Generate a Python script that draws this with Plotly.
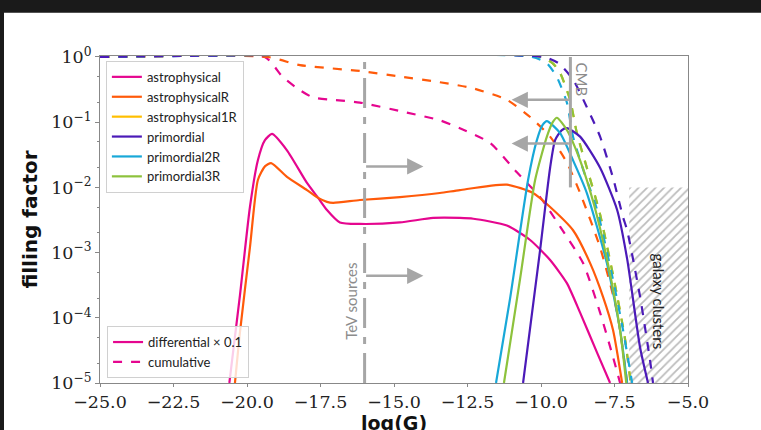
import plotly.graph_objects as go
import numpy as np

# ---------------- data ----------------
# differential (x 0.1) curves, solid
astro_G = [-20.6, -20.24, -19.9, -19.63, -19.39, -19.15, -18.64, -17.96, -17.58, -17.28, -16.84, -16.16,
           -14.8, -13.67, -12.76, -12.3, -11.16, -10.37, -9.69, -9.12, -8.67, -8.09, -7.65]
astro_ff = [1e-5, 2.2e-4, 5e-3, 0.026, 0.053, 0.066, 0.037, 0.0117, 6.9e-3, 4.5e-3, 2.9e-3, 2.75e-3,
            2.9e-3, 3.4e-3, 3.4e-3, 3.3e-3, 2.6e-3, 1.56e-3, 7.7e-4, 3.4e-4, 1.2e-4, 2.9e-5, 1e-5]

astroR_G = [-20.41, -20.24, -19.9, -19.63, -19.39, -19.18, -18.64, -17.96, -17.58, -17.28, -17.07, -16.16,
            -14.8, -13.44, -12.76, -11.16, -10.27, -9.69, -8.91, -8.33, -7.89, -7.55, -7.24]
astroR_ff = [1e-5, 6e-5, 1.2e-3, 0.013, 0.021, 0.0236, 0.0145, 9.1e-3, 6.9e-3, 6.0e-3, 5.8e-3, 6.4e-3,
             7.1e-3, 8.2e-3, 9.1e-3, 0.011, 8.2e-3, 5e-3, 2.2e-3, 6.9e-4, 2.1e-4, 6.5e-5, 1e-5]

prim_G = [-10.61, -10.03, -9.69, -9.52, -9.3, -9.12, -8.67, -7.99, -7.41, -7.07, -6.63, -6.36]
prim_ff = [1e-5, 1.1e-3, 0.02, 0.053, 0.075, 0.081, 0.06, 0.02, 4.5e-3, 8e-4, 3.5e-5, 1e-5]

prim2R_G = [-11.53, -11.05, -10.44, -10.14, -9.95, -9.8, -9.35, -8.91, -8.44, -7.76, -7.31, -7.07]
prim2R_ff = [1e-5, 2e-4, 0.013, 0.053, 0.09, 0.104, 0.068, 0.026, 8.2e-3, 6.9e-4, 6.5e-5, 1e-5]

prim3R_G = [-11.26, -10.71, -10.2, -9.8, -9.6, -9.46, -9.12, -8.67, -8.2, -7.7, -7.3, -7.1]
prim3R_ff = [1e-5, 4e-4, 0.013, 0.06, 0.1, 0.117, 0.076, 0.026, 5.5e-3, 6e-4, 6e-5, 1e-5]

# cumulative curves, dashed
astro_cum_G = [-25.0, -19.4, -18.78, -18.2, -17.76, -17.07, -16.16, -14.56, -13.44, -12.76, -11.73, -10.82,
               -10.03, -9.35, -8.57, -7.99, -7.55, -7.31]
astro_cum_ff = [1.0, 1.0, 0.49, 0.31, 0.24, 0.22, 0.2, 0.14, 0.107, 0.081, 0.048, 0.017,
                7.1e-3, 2.5e-3, 6.9e-4, 1.2e-4, 2.5e-5, 1e-5]

astroR_cum_G = [-25.0, -19.3, -18.2, -16.16, -14.8, -13.44, -12.31, -11.16, -10.37, -9.69, -9.12, -8.67,
                -7.99, -7.41, -7.07]
astroR_cum_ff = [1.0, 1.0, 0.75, 0.61, 0.5, 0.41, 0.33, 0.22, 0.12, 0.06, 0.024, 8.2e-3,
                 1.2e-3, 1.2e-4, 1e-5]

prim_cum_G = [-25.0, -9.9, -9.4, -8.91, -8.44, -7.99, -7.55, -7.21, -7.07, -6.63, -6.29, -6.19]
prim_cum_ff = [1.0, 1.0, 0.8, 0.45, 0.17, 0.06, 0.014, 3.5e-3, 2.2e-3, 2.1e-4, 2.2e-5, 1e-5]

prim2R_cum_G = [-25.0, -10.3, -9.8, -9.46, -9.12, -8.91, -8.57, -8.09, -7.55, -7.21, -6.9]
prim2R_cum_ff = [1.0, 1.0, 0.8, 0.49, 0.2, 0.06, 0.019, 4.5e-3, 3.8e-4, 6.5e-5, 1e-5]

prim3R_cum_G = [-25.0, -10.0, -9.6, -9.35, -9.01, -8.78, -8.44, -8.0, -7.5, -7.15, -6.95]
prim3R_cum_ff = [1.0, 1.0, 0.8, 0.57, 0.22, 0.068, 0.02, 4e-3, 3.5e-4, 5e-5, 1e-5]

astro1R_cum_G = prim3R_cum_G
astro1R_cum_ff = prim3R_cum_ff

# observational constraints
tev_G = -16.0
tev_arrow_end_G = -14.0
tev_arrow_ff = [0.021, 4.4e-4]
cmb_G = -9.0
cmb_top_ff = 1.0
cmb_bottom_ff = 0.01
cmb_arrow_end_G = -11.0
cmb_arrow_ff = [0.22, 0.047]
clusters_G = [-7.0, -5.0]
clusters_ff = [1e-5, 1e-2]

x_ticks = [-25.0, -22.5, -20.0, -17.5, -15.0, -12.5, -10.0, -7.5, -5.0]
y_ticks = [1, 1e-1, 1e-2, 1e-3, 1e-4, 1e-5]
y_ticklabels = ["10<sup>0</sup>", "10<sup>−1</sup>", "10<sup>−2</sup>", "10<sup>−3</sup>",
                "10<sup>−4</sup>", "10<sup>−5</sup>"]

# ---------------- styling ----------------
C_ASTRO = "#e5068f"
C_ASTROR = "#ff5a0a"
C_ASTRO1R = "#ffbf00"
C_PRIM = "#4b1ab8"
C_PRIM2R = "#18a8d8"
C_PRIM3R = "#8dc23c"
GREY = "#a6a6a6"
LW = 2.2

fig = go.Figure()

# galaxy clusters hatched region
fig.add_trace(go.Scatter(
    x=[clusters_G[0], clusters_G[1], clusters_G[1], clusters_G[0], clusters_G[0]],
    y=[clusters_ff[0], clusters_ff[0], clusters_ff[1], clusters_ff[1], clusters_ff[0]],
    mode="lines", fill="toself", line=dict(width=0, color="rgba(0,0,0,0)"),
    fillcolor="white",
    fillpattern=dict(shape="/", fgcolor="#7a7a7a", bgcolor="white", size=6, solidity=0.3),
    showlegend=False, hoverinfo="skip"))

def line(x, y, color, dash="solid", name=None, legend=False, lg="legend"):
    fig.add_trace(go.Scatter(x=x, y=y, mode="lines", name=name,
                             line=dict(color=color, width=LW, dash=dash, shape="spline", smoothing=0.6),
                             showlegend=legend, legend=lg))

# cumulative (dashed)
line(astro_cum_G, astro_cum_ff, C_ASTRO, "dash")
line(astroR_cum_G, astroR_cum_ff, C_ASTROR, "dash")
line(astro1R_cum_G, astro1R_cum_ff, C_ASTRO1R, "dash")
line(prim3R_cum_G, prim3R_cum_ff, C_PRIM3R, "dash")
line(prim2R_cum_G, prim2R_cum_ff, C_PRIM2R, "dash")
line(prim_cum_G, prim_cum_ff, C_PRIM, "dash")

# differential (solid)
line(astro_G, astro_ff, C_ASTRO, name="astrophysical", legend=True)
line(astroR_G, astroR_ff, C_ASTROR, name="astrophysicalR", legend=True)
fig.add_trace(go.Scatter(x=[None], y=[None], mode="lines", name="astrophysical1R",
                         line=dict(color=C_ASTRO1R, width=LW), legend="legend"))
line(prim_G, prim_ff, C_PRIM, name="primordial", legend=True)
line(prim2R_G, prim2R_ff, C_PRIM2R, name="primordial2R", legend=True)
line(prim3R_G, prim3R_ff, C_PRIM3R, name="primordial3R", legend=True)

# second legend: line styles
fig.add_trace(go.Scatter(x=[None], y=[None], mode="lines", name="differential × 0.1",
                         line=dict(color=C_ASTRO, width=LW), legend="legend2"))
fig.add_trace(go.Scatter(x=[None], y=[None], mode="lines", name="cumulative",
                         line=dict(color=C_ASTRO, width=LW, dash="dash"), legend="legend2"))

# TeV sources line
fig.add_trace(go.Scatter(x=[tev_G, tev_G], y=[y_ticks[-1], y_ticks[0]], mode="lines",
                         line=dict(color=GREY, width=3, dash="30px,9px,7px,9px"),
                         showlegend=False, hoverinfo="skip"))
# CMB line
fig.add_trace(go.Scatter(x=[cmb_G, cmb_G], y=[cmb_bottom_ff, cmb_top_ff], mode="lines",
                         line=dict(color=GREY, width=3), showlegend=False, hoverinfo="skip"))

for f in tev_arrow_ff:
    fig.add_annotation(x=tev_arrow_end_G, y=np.log10(f), ax=tev_G, ay=np.log10(f),
                       xref="x", yref="y", axref="x", ayref="y", text="", showarrow=True,
                       arrowhead=2, arrowsize=1.3, arrowwidth=2.5, arrowcolor=GREY)
for f in cmb_arrow_ff:
    fig.add_annotation(x=cmb_arrow_end_G, y=np.log10(f), ax=cmb_G, ay=np.log10(f),
                       xref="x", yref="y", axref="x", ayref="y", text="", showarrow=True,
                       arrowhead=2, arrowsize=1.3, arrowwidth=2.5, arrowcolor=GREY)

fig.add_annotation(x=tev_G, y=np.log10(1.8e-4), xref="x", yref="y", text="TeV sources",
                   textangle=-90, showarrow=False, xanchor="right", xshift=-2,
                   font=dict(family="Lato", size=15, color="#8c8c8c"))
fig.add_annotation(x=cmb_G, y=0, xref="x", yref="y", text="CMB", textangle=90,
                   showarrow=False, xanchor="left", yanchor="top", xshift=1, yshift=-4,
                   font=dict(family="Lato", size=15, color="#8c8c8c"))
fig.add_annotation(x=-6.0, y=np.log10(1.8e-4), xref="x", yref="y", text="galaxy clusters",
                   textangle=90, showarrow=False,
                   font=dict(family="Lato", size=15, color="#222222"))

# x-axis title (placed as annotation so it can sit low, as in the reference)
fig.add_annotation(x=0.5, y=-(410 - 383) / 326, xref="paper", yref="paper", text="<b>log(G)</b>",
                   showarrow=False, xanchor="center", yanchor="top",
                   font=dict(family="DejaVu Sans", size=19, color="#111"))

# black window-frame strips (top and left) of the screenshot
fig.add_shape(type="rect", xref="paper", yref="paper", x0=-0.2, x1=1.2,
              y0=1 + (57 - 14) / 326, y1=1.2, fillcolor="#1a1a1a", line=dict(width=0), layer="above")
fig.add_shape(type="rect", xref="paper", yref="paper", x0=-0.2, x1=(4 - 100) / 588,
              y0=-0.2, y1=1.2, fillcolor="#1a1a1a", line=dict(width=0), layer="above")

axis_font = dict(family="DejaVu Serif", size=17.5, color="#222")
fig.update_layout(
    width=761, height=430,
    margin=dict(l=100, r=73, t=56, b=47),
    paper_bgcolor="white", plot_bgcolor="white",
    xaxis=dict(range=[-25, -5], tickvals=x_ticks, automargin=False,
               ticktext=[f"{v:.1f}".replace("-", "−") for v in x_ticks],
               showgrid=False, zeroline=False, showline=True, mirror=True,
               linecolor="#888", linewidth=1, ticks="outside", ticklen=3, tickcolor="#888",
               tickfont=axis_font),
    yaxis=dict(type="log", range=[-5, 0.015], tickvals=y_ticks, ticktext=y_ticklabels,
               automargin=False,
               showgrid=False, zeroline=False, showline=True, mirror=True,
               linecolor="#888", linewidth=1, ticks="outside", ticklen=4, tickcolor="#888",
               tickfont=axis_font,
               minor=dict(ticks="outside", ticklen=2.5, tickcolor="#888", showgrid=False),
               title=dict(text="<b>filling factor</b>", standoff=8,
                          font=dict(family="DejaVu Sans", size=20, color="#111"))),
    legend=dict(x=0.01, y=0.985, xanchor="left", yanchor="top",
                bgcolor="rgba(255,255,255,0.8)", bordercolor="#d0d0d0", borderwidth=1,
                font=dict(family="Lato", size=13, color="#222"), tracegroupgap=0,
                itemwidth=30),
    legend2=dict(x=0.012, y=0.015, xanchor="left", yanchor="bottom",
                 bgcolor="rgba(255,255,255,0.8)", bordercolor="#d0d0d0", borderwidth=1,
                 font=dict(family="Lato", size=13, color="#222"), itemwidth=30),
)

fig.write_html("out.html")
